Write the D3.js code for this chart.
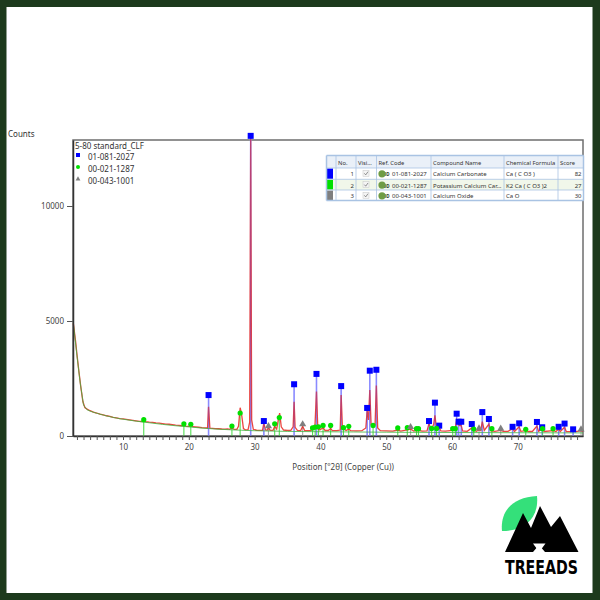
<!DOCTYPE html>
<html>

<head>
    <meta charset="utf-8">
    <script src="https://d3js.org/d3.v7.min.js"></script>
    <style>
        body { margin: 0; background: #fff; }
        svg text { font-family: "Noto Sans", "Open Sans", sans-serif; }
    </style>
</head>

<body>
    <div id="my_dataviz"></div>
</body>
<script>

    // ---- data ----
    // observed pattern [2theta, counts]
    var observed = [[2.45,4900],[2.8,4100],[3.0,3550],[3.3,2800],[3.6,2100],[3.9,1500],[4.2,1240],[4.6,1160],[5.0,1100],[5.5,1040],
        [6.0,1000],[6.5,950],[7.0,920],[7.5,880],[8.0,850],[8.5,810],[9.0,790],[9.5,760],[10.0,740],[10.5,720],[11.0,700],
        [11.5,680],[12.0,660],[12.5,640],[12.9,630],[13.15,760],[13.4,620],[14.0,600],[14.5,590],[15.0,570],[15.5,560],[16.0,540],
        [16.5,520],[17.0,510],[17.5,490],[18.0,470],[18.5,460],[19.0,445],[19.25,520],[19.5,430],[20.0,420],[20.3,470],[20.6,405],
        [21.0,395],[21.5,380],[22.0,365],[22.5,355],[22.85,350],[23.0,1270],[23.2,345],[23.6,335],[24.0,325],[24.5,315],[25.0,305],
        [25.5,300],[25.9,310],[26.2,290],[26.55,360],[26.9,285],[27.3,290],[27.55,420],[27.8,1230],[28.0,980],[28.3,320],[28.6,270],
        [29.0,275],[29.25,600],[29.4,13000],[29.55,700],[29.8,290],[30.3,250],[30.8,245],[31.2,250],[31.4,560],[31.65,260],[31.9,250],
        [32.1,380],[32.35,250],[32.8,245],[33.05,420],[33.35,300],[33.6,700],[33.8,1000],[34.05,400],[34.4,260],[35.0,240],[35.5,245],
        [35.85,400],[36.0,1490],[36.15,380],[36.5,240],[37.0,235],[37.3,420],[37.6,235],[38.0,230],[38.5,230],[38.8,300],[39.15,330],
        [39.4,1930],[39.6,320],[39.9,260],[40.4,360],[40.7,240],[41.2,240],[41.55,330],[41.8,235],[42.5,230],[43.0,260],[43.15,1780],
        [43.35,300],[43.5,320],[43.9,240],[44.3,300],[44.6,230],[45.5,225],[46.3,230],[46.9,350],[47.1,1100],[47.3,700],[47.5,2000],
        [47.7,500],[48.0,380],[48.3,500],[48.5,2200],[48.7,350],[49.1,230],[50.0,220],[51.0,215],[51.75,260],[52.2,215],[53.2,270],
        [53.7,300],[54.2,215],[54.7,250],[55.5,210],[56.2,220],[56.5,550],[56.8,260],[57.2,500],[57.4,900],[57.6,400],[58.05,380],
        [58.3,220],[59.0,210],[60.1,240],[60.45,280],[60.7,700],[60.95,500],[61.15,450],[61.4,450],[61.6,220],[62.3,205],[63.0,350],
        [63.3,250],[63.7,205],[64.1,260],[64.35,230],[64.6,620],[64.9,240],[65.6,520],[65.85,230],[66.5,200],[67.4,240],[67.8,200],
        [68.5,200],[69.2,320],[69.5,200],[70.2,400],[70.45,200],[71.2,230],[71.6,195],[72.2,195],[72.9,430],[73.15,210],[73.7,300],
        [74.0,195],[75.35,230],[75.8,195],[76.2,300],[76.45,195],[77.1,380],[77.35,195],[78.0,190],[78.4,230],[78.8,190],[79.6,230],[79.9,185]];

    // calculated background
    var background = [[2.45,4900],[3.0,3500],[3.5,2300],[4.0,1350],[4.5,1150],[5,1080],[6,990],[7,910],[8,840],[9,780],[10,730],
        [12,645],[14,575],[16,505],[18,445],[20,395],[22,345],[24,305],[26,275],[28,250],[30,230],[35,200],[40,185],[45,175],
        [50,165],[55,158],[60,152],[65,147],[70,142],[75,138],[79.9,134]];

    // reference patterns [2theta, counts]
    var calciteRefs = [[23.0,1780],[29.4,13050],[31.4,650],[36.0,2250],[39.4,2700],[43.15,2170],[47.1,1220],[47.5,2840],[48.5,2880],
        [56.5,650],[57.4,1450],[58.05,450],[60.7,970],[61.0,620],[61.4,620],[63.0,520],[64.6,1040],[65.6,740],[69.2,400],
        [70.2,550],[72.9,610],[73.7,380],[76.2,400],[77.1,540],[78.4,290]];
    var potassiumRefs = [[13.15,710],[19.25,530],[20.3,510],[26.55,430],[27.8,1000],[33.05,530],[33.75,800],[38.8,350],[39.2,390],
        [39.7,400],[40.4,460],[41.55,460],[43.5,360],[44.3,420],[48.0,460],[51.75,350],[53.2,360],[54.6,320],[54.9,320],
        [56.9,330],[57.65,330],[60.1,320],[60.5,320],[63.3,300],[66.05,320],[71.2,290],[73.75,320],[75.35,320]];
    var oxideRefs = [[32.1,430],[37.3,510],[53.7,390],[64.1,330],[67.4,320],[79.6,290]];

    var yTicks = [0, 5000, 10000];
    var legendTitle = "5-80 standard_CLF";
    var refCodes = ["01-081-2027", "00-021-1287", "00-043-1001"];
    var compoundNames = ["Calcium Carbonate", "Potassium Calcium Car...", "Calcium Oxide"];
    var formulas = ["Ca ( C O3 )", "K2 Ca ( C O3 )2", "Ca O"];
    var scores = [82, 27, 30];
    var tableHeaders = ["", "No.", "Visi...", "Ref. Code", "Compound Name", "Chemical Formula", "Score"];

    var refColors = ["#0000ff", "#00e000", "#7f7f7f"];
    var stickColors = ["#9c9cff", "#55dd55", "#a8a8a8"];

    var svg = d3.select("#my_dataviz")
        .append("svg")
        .attr("width", 600)
        .attr("height", 600);

    // dark green frame round the picture
    svg.append("rect").attr("width", 600).attr("height", 600).attr("fill", "#1d3a1c");
    svg.append("rect").attr("x", 6.5).attr("y", 7).attr("width", 586).attr("height", 586).attr("fill", "#fff");

    var plotLeft = 73, plotRight = 583, plotTop = 140, plotBottom = 436;

    var x = d3.scaleLinear().domain([2.4, 79.9]).range([plotLeft, plotRight]);
    var y = d3.scaleLinear().domain([0, 12870]).range([plotBottom, plotTop]);

    // plot frame
    svg.append("rect")
        .attr("x", plotLeft).attr("y", plotTop)
        .attr("width", plotRight - plotLeft).attr("height", plotBottom - plotTop)
        .attr("fill", "none").attr("stroke", "#6e6e6e").attr("stroke-width", 1.5);

    // sticks for the reference patterns (drawn under the scan)
    var refSets = [calciteRefs, potassiumRefs, oxideRefs];
    refSets.forEach(function (set, i) {
        svg.append("g")
            .selectAll("line")
            .data(set)
            .enter().append("line")
            .attr("x1", function (d) { return x(d[0]); })
            .attr("x2", function (d) { return x(d[0]); })
            .attr("y1", y(0))
            .attr("y2", function (d) { return y(d[1]); })
            .attr("stroke", stickColors[i])
            .attr("stroke-width", i == 0 ? 1.6 : 1.1);
    });

    var line = d3.line()
        .x(function (d) { return x(d[0]); })
        .y(function (d) { return y(d[1]); });

    svg.append("path")
        .datum(observed)
        .attr("d", line)
        .attr("fill", "none")
        .attr("stroke", "#e8241e")
        .attr("stroke-width", 1.3)
        .attr("stroke-opacity", 0.85);

    svg.append("path")
        .datum(background)
        .attr("d", line)
        .attr("fill", "none")
        .attr("stroke", "#3fb53f")
        .attr("stroke-width", 0.8);

    // faint blue sticks on top give the magenta look of the peaks
    svg.append("g")
        .selectAll("line")
        .data(calciteRefs)
        .enter().append("line")
        .attr("x1", function (d) { return x(d[0]); })
        .attr("x2", function (d) { return x(d[0]); })
        .attr("y1", y(0))
        .attr("y2", function (d) { return y(d[1]); })
        .attr("stroke", "#6060ff")
        .attr("stroke-opacity", 0.3)
        .attr("stroke-width", 1.2);

    // markers
    svg.append("g")
        .selectAll("rect")
        .data(calciteRefs)
        .enter().append("rect")
        .attr("x", function (d) { return x(d[0]) - 3; })
        .attr("y", function (d) { return y(d[1]) - 3; })
        .attr("width", 6).attr("height", 6)
        .attr("fill", refColors[0]);

    svg.append("g")
        .selectAll("circle")
        .data(potassiumRefs)
        .enter().append("circle")
        .attr("cx", function (d) { return x(d[0]); })
        .attr("cy", function (d) { return y(d[1]); })
        .attr("r", 2.6)
        .attr("fill", refColors[1]);

    svg.append("g")
        .selectAll("path")
        .data(oxideRefs)
        .enter().append("path")
        .attr("d", d3.symbol().type(d3.symbolTriangle).size(22))
        .attr("transform", function (d) { return "translate(" + x(d[0]) + "," + y(d[1]) + ")"; })
        .attr("fill", refColors[2]);

    // axes
    var yAxis = svg.append("g")
        .attr("transform", "translate(" + plotLeft + ",0)")
        .call(d3.axisLeft(y).tickValues(yTicks).tickSize(6).tickSizeOuter(0).tickFormat(d3.format("d")));

    var xAxis = svg.append("g")
        .attr("transform", "translate(0," + plotBottom + ")")
        .call(d3.axisBottom(x).tickValues(d3.range(3, 80)).tickSize(4).tickSizeOuter(0)
            .tickFormat(function (d) { return d % 10 == 0 ? d : ""; }));

    [yAxis, xAxis].forEach(function (a) {
        a.select(".domain").attr("stroke", "#333").attr("stroke-width", 1.5);
        a.selectAll(".tick line").attr("stroke", "#555");
        a.selectAll(".tick text").attr("fill", "#444").style("font-size", "8px");
    });
    xAxis.selectAll(".tick text").attr("dy", "0.9em");
    yAxis.selectAll(".tick text").attr("x", -9);

    svg.append("text")
        .attr("x", 8).attr("y", 137)
        .attr("fill", "#333").style("font-size", "8px")
        .text("Counts");

    svg.append("text")
        .attr("x", (295 + 391) / 2).attr("y", 470)
        .attr("text-anchor", "middle")
        .attr("fill", "#444").style("font-size", "8px")
        .text("Position [°2θ] (Copper (Cu))");

    // legend in the top left corner
    var legend = svg.append("g").attr("transform", "translate(75,0)");
    legend.append("text").attr("x", 0).attr("y", 149).attr("fill", "#333").style("font-size", "8px").text(legendTitle);
    refCodes.forEach(function (code, i) {
        var ly = 158 + i * 12;
        if (i == 0) legend.append("rect").attr("x", 1).attr("y", ly - 5).attr("width", 4).attr("height", 4).attr("fill", refColors[0]);
        if (i == 1) legend.append("circle").attr("cx", 3).attr("cy", ly - 3).attr("r", 2).attr("fill", refColors[1]);
        if (i == 2) legend.append("path").attr("d", d3.symbol().type(d3.symbolTriangle).size(10))
            .attr("transform", "translate(3," + (ly - 3) + ")").attr("fill", refColors[2]);
        legend.append("text").attr("x", 13).attr("y", ly + 2).attr("fill", "#333").style("font-size", "8px").text(code);
    });

    // pattern list table
    var colX = [326.5, 336, 356, 376.5, 431, 504, 558, 583.5];
    var rowY = [155.5, 168, 179.3, 190, 200.5];
    var table = svg.append("g");
    var rowFill = ["#eaf0f8", "#ffffff", "#f1f7ea", "#ffffff"];
    rowFill.forEach(function (f, r) {
        table.append("rect").attr("x", colX[0]).attr("y", rowY[r])
            .attr("width", colX[7] - colX[0]).attr("height", rowY[r + 1] - rowY[r]).attr("fill", f);
    });
    refColors.forEach(function (c, r) {
        table.append("rect").attr("x", colX[0] + 0.5).attr("y", rowY[r + 1] + 0.5)
            .attr("width", 6).attr("height", rowY[r + 2] - rowY[r + 1] - 1).attr("fill", c);
    });
    colX.forEach(function (cx, i) {
        table.append("line").attr("x1", cx).attr("x2", cx).attr("y1", rowY[0]).attr("y2", rowY[4])
            .attr("stroke", "#a9c3e3").attr("stroke-width", (i == 0 || i == 7) ? 1.5 : 0.8);
    });
    rowY.forEach(function (ry, i) {
        table.append("line").attr("x1", colX[0]).attr("x2", colX[7]).attr("y1", ry).attr("y2", ry)
            .attr("stroke", "#a9c3e3").attr("stroke-width", (i == 0 || i == 4) ? 1.5 : 0.8);
    });
    tableHeaders.forEach(function (h, i) {
        table.append("text").attr("x", colX[i] + 2).attr("y", 164.5)
            .attr("fill", "#333").style("font-size", "5.8px").text(h);
    });
    refCodes.forEach(function (code, r) {
        var ty = rowY[r + 1] + 8.3;
        var cells = table.append("g").attr("fill", "#333").style("font-size", "6px");
        cells.append("text").attr("x", colX[2] - 2).attr("y", ty).attr("text-anchor", "end").text(r + 1);
        // checkbox
        table.append("rect").attr("x", 363).attr("y", ty - 6).attr("width", 6).attr("height", 6)
            .attr("fill", "#f4f4f4").attr("stroke", "#c8c8c8").attr("stroke-width", 0.5);
        table.append("path").attr("d", "M364.3," + (ty - 3) + " l1.4,1.6 l2.3,-3.2")
            .attr("fill", "none").attr("stroke", "#666").attr("stroke-width", 0.7);
        // ICDD icon
        table.append("circle").attr("cx", 382).attr("cy", ty - 2.5).attr("r", 3.6).attr("fill", "#6f9c45");
        cells.append("text").attr("x", 383).attr("y", ty).style("font-size", "4.5px").style("font-weight", "bold").attr("fill", "#2e3f1f").text("DD");
        cells.append("text").attr("x", 392).attr("y", ty).text(code);
        cells.append("text").attr("x", colX[4] + 2).attr("y", ty).text(compoundNames[r]);
        cells.append("text").attr("x", colX[5] + 2).attr("y", ty).text(formulas[r]);
        cells.append("text").attr("x", colX[7] - 2).attr("y", ty).attr("text-anchor", "end").text(scores[r]);
    });

    // TREEADS logo
    var logo = svg.append("g");
    logo.append("path")
        .attr("d", "M502,531 C500,512 512,497 537,496 C539,516 527,531 502,531 Z")
        .attr("fill", "#34e07a");
    logo.append("path")
        .attr("d", "M505,552 L523,513 L531,528 L540,506 L551,527 L560,516 L578.5,552 L545,552 L539,545 L533,552 Z")
        .attr("fill", "#000");
    logo.append("path")
        .attr("d", "M533,543.5 L545.5,543.5 L539.2,552 Z")
        .attr("fill", "#fff");
    logo.append("text")
        .attr("x", 505).attr("y", 574)
        .attr("textLength", 73).attr("lengthAdjust", "spacingAndGlyphs")
        .style("font-family", "'DejaVu Sans Condensed', 'Liberation Sans Narrow', sans-serif")
        .style("font-weight", "bold").style("font-size", "20px")
        .attr("fill", "#000")
        .text("TREEADS");

</script>

</html>
